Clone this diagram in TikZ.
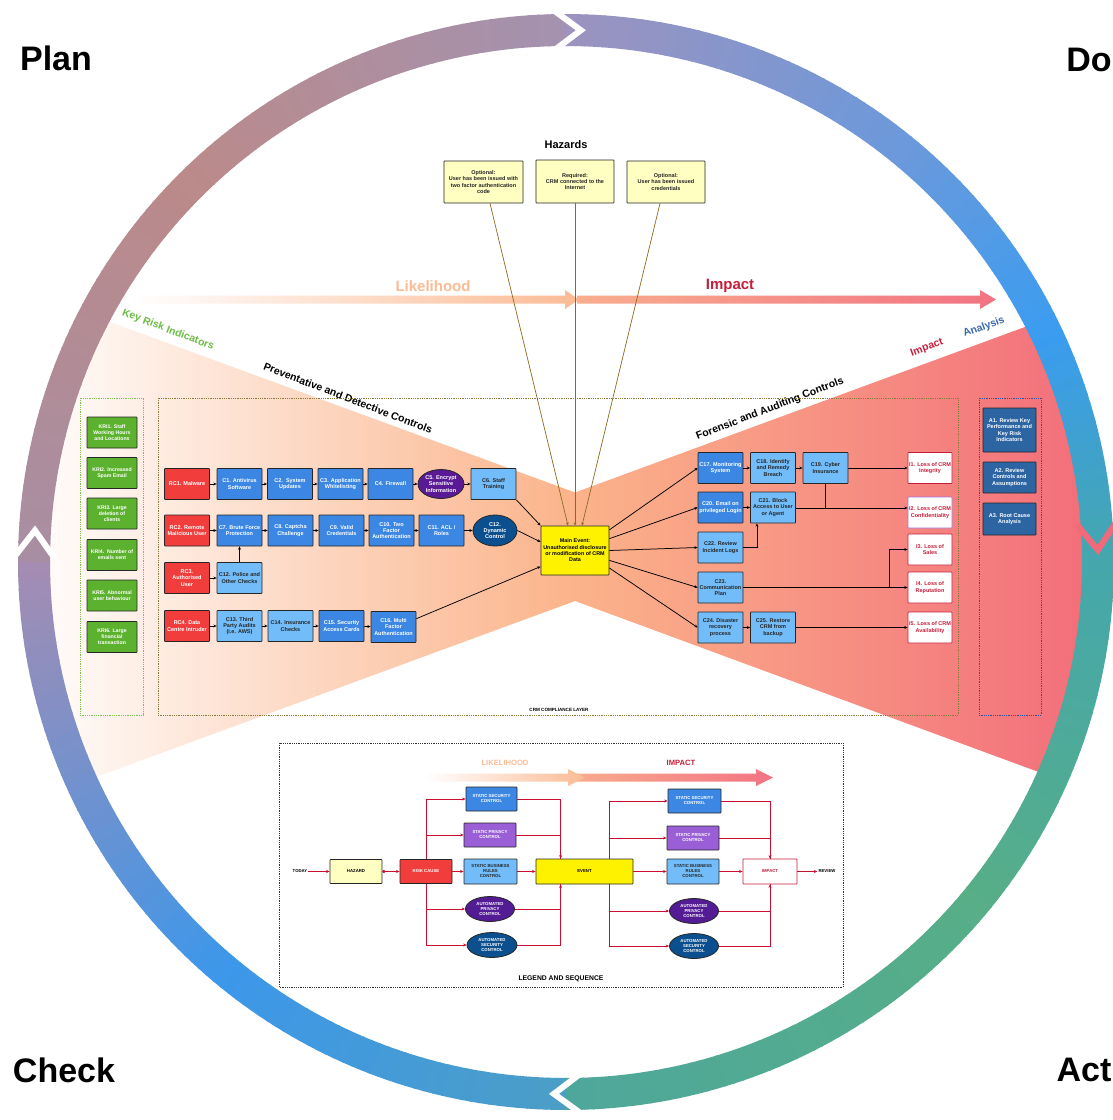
\documentclass[tikz,border=0pt]{standalone}
\usepackage{fontspec}
\setmainfont{Liberation Sans}
\usetikzlibrary{shapes.geometric,arrows.meta,calc}

% palette
\definecolor{rcred}{HTML}{F23D3D}
\definecolor{cblue}{HTML}{3B87E3}
\definecolor{clight}{HTML}{72BCF9}
\definecolor{cpurple}{HTML}{5A1A96}
\definecolor{cnavy}{HTML}{0C4F8E}
\definecolor{krigreen}{HTML}{5CB22E}
\definecolor{kriline}{HTML}{7CC050}
\definecolor{anblue}{HTML}{2D65A3}
\definecolor{anline}{HTML}{3050A0}
\definecolor{crmline}{HTML}{8B7A3A}
\definecolor{impred}{HTML}{C41E3A}
\definecolor{ipurple}{HTML}{A070E0}
\definecolor{hazfill}{HTML}{FFFFC2}
\definecolor{spurple}{HTML}{9A5FD6}
\definecolor{apurple}{HTML}{531B94}
\definecolor{seqred}{HTML}{C8102E}
\definecolor{hazline}{HTML}{8B6B1F}
\definecolor{likeor}{HTML}{FBBB95}
\definecolor{fanor}{HTML}{FBB38A}
\definecolor{fanmid}{HTML}{F8927E}
\definecolor{fanred}{HTML}{F26A7A}
\definecolor{impA}{HTML}{F9AD8E}
\definecolor{impB}{HTML}{F27383}
\definecolor{kritxt}{HTML}{6DBD45}
\definecolor{anatxt}{HTML}{3C6AA8}
% cycle ring colours
\definecolor{rA}{HTML}{45A7AC}
\definecolor{rB}{HTML}{57AE87}
\definecolor{rC}{HTML}{4EA79B}
\definecolor{rD}{HTML}{4B9EC6}
\definecolor{rE}{HTML}{3D97EA}
\definecolor{rF}{HTML}{A58CB2}
\definecolor{rG}{HTML}{A88EA3}
\definecolor{rH}{HTML}{BB8A8A}
\definecolor{rI}{HTML}{A392B0}
\definecolor{rJ}{HTML}{9D93BE}
\definecolor{rK}{HTML}{6A99DC}
\definecolor{rL}{HTML}{3A9CF0}
\definecolor{rM}{HTML}{45A7AC}

\tikzset{
  bx/.style={draw=black!85, line width=0.8pt, rounded corners=0.6pt, align=center,
    inner sep=0.5pt, minimum width=45pt, minimum height=31pt,
    font=\bfseries\fontsize{5.5}{6.3}\selectfont},
  rcbox/.style={bx, fill=rcred, text=white},
  cbbox/.style={bx, fill=cblue, text=white},
  clbox/.style={bx, fill=clight, text=black!85},
  impbox/.style={bx, fill=white, draw=impred, text=impred, minimum width=44pt},
  kribox/.style={bx, fill=krigreen, text=white, minimum width=50pt,
    font=\bfseries\fontsize{5.2}{6.1}\selectfont},
  anbox/.style={bx, fill=anblue, text=white, minimum width=53pt},
  hazbox/.style={bx, fill=hazfill, text=black!85, minimum width=78pt, minimum height=42pt},
  ell/.style={bx, ellipse, inner sep=0pt, minimum width=46pt, minimum height=29pt},
  link/.style={line width=0.75pt, -{Stealth[length=3.2pt,width=2.8pt]}},
  hz/.style={draw=hazline, line width=0.7pt, -{Stealth[length=3.2pt,width=2.8pt]}},
  lg/.style={draw=black!85, line width=0.8pt, rounded corners=0.6pt, align=center,
    inner sep=0.3pt, minimum width=52pt, minimum height=24pt,
    font=\bfseries\fontsize{4.3}{5}\selectfont},
  lgell/.style={lg, ellipse, inner sep=0pt, minimum width=49pt, minimum height=25pt},
  seq/.style={draw=seqred, line width=0.8pt, -{Stealth[length=3.5pt,width=3pt]}},
  seqline/.style={draw=seqred, line width=0.8pt},
  tag/.style={font=\bfseries\fontsize{10.5}{12}\selectfont, inner sep=0pt},
  corner/.style={font=\bfseries\fontsize{34}{36}\selectfont, inner sep=0pt},
}

\begin{document}
\begin{tikzpicture}[x=1pt, y=-1pt]
\useasboundingbox (0,0) rectangle (1112,1120);
\fill[white] (0,0) rectangle (1112,1120);

% ---------- bow-tie fans ----------
\begin{scope}
  \clip (566,562) circle[radius=545];
  \shade[left color=white, right color=fanor]
    (20,289) -- (575,492.5) -- (575,601) -- (20,805) -- cycle;
  \shade[left color=fanor, middle color=fanmid, right color=fanred]
    (575,492.5) -- (1120,292) -- (1120,802) -- (575,601) -- cycle;
\end{scope}

% ---------- likelihood / impact band ----------
\shade[left color=impA, right color=impB]
  (577,295.5) -- (980,295.5) -- (980,290) -- (996,299.5) -- (980,309) -- (980,303.5) -- (577,303.5) -- cycle;
\shade[left color=white, right color=likeor]
  (130,295.5) -- (565,295.5) -- (565,290) -- (579,299.5) -- (565,309) -- (565,303.5) -- (130,303.5) -- cycle;
\node[font=\bfseries\fontsize{15}{17}\selectfont, text=likeor] (likelbl) at (433,286) {Likelihood};
\node[font=\bfseries\fontsize{15}{17}\selectfont, text=impred] (implbl) at (730,286) {Impact};

% ---------- PDCA cycle ring ----------
\begin{scope}[shift={(566,562)}]
  \foreach \a/\b/\ca/\cb in {0/40/rA/rB, 40/90/rB/rC, 90/130/rD/rE, 130/180/rE/rF,
      180/225/rG/rH, 225/270/rH/rI, 270/310/rJ/rK, 310/335/rK/rL, 335/360/rL/rM}{
    \pgfmathtruncatemacro\n{\b-\a-1}
    \foreach \i in {0,...,\n}{
      \pgfmathtruncatemacro\p{100-round(100*(\i+0.5)/(\b-\a))}
      \fill[\ca!\p!\cb] ({\a+\i}:516) -- ({\a+\i}:548) -- ({\a+\i+1.15}:548) -- ({\a+\i+1.15}:516) -- cycle;
    }
  }
  % chevron joints between the four stages
  \draw[white, line width=6pt] (268.7:552) -- (271.6:532) -- (268.7:512);
  \draw[white, line width=6pt] (88.4:552) -- (91.3:532) -- (88.4:512);
  \draw[white, line width=6pt] (180.5:552) -- (183.4:532) -- (180.5:512);
  \draw[fanred, line width=6pt] (355.8:552) -- (358.7:532) -- (355.8:512);
\end{scope}

\node[corner] (plan) at (56,58) {Plan};
\node[corner] (do) at (1089,60) {Do};
\node[corner] (check) at (64,1070) {Check};
\node[corner] (act) at (1084,1070) {Act};

% ---------- section captions ----------
\node[tag, text=kritxt, rotate=-21] (krilbl) at (168,330) {Key Risk Indicators};
\node[tag, rotate=-21] (pdlbl) at (348,398) {Preventative and Detective Controls};
\node[tag, rotate=21] (falbl) at (770,409) {Forensic and Auditing Controls};
\node[tag, text=impred, rotate=20] (imptag) at (927,348) {Impact};
\node[tag, text=anatxt, rotate=20] (anatag) at (984,327) {Analysis};

% ---------- panels ----------
\draw[kriline, densely dotted, line width=0.8pt] (80,398) rectangle (143,715);
\draw[crmline, densely dotted, line width=0.8pt] (158,398) rectangle (958,715);
\draw[anline, densely dotted, line width=0.8pt] (979,398) rectangle (1041,715);
\node[font=\bfseries\fontsize{4.6}{5}\selectfont] (crmlbl) at (559,710) {CRM COMPLIANCE LAYER};

% ---------- hazards ----------
\node[font=\bfseries\fontsize{11}{13}\selectfont] (hazt) at (566,145) {Hazards};
\node[hazbox, minimum width=79pt] (h1) at (483.5,182) {Optional:\\User has been issued with\\two factor authentication\\code};
\node[hazbox, minimum height=43pt] (h2) at (575,181.5) {Required:\\CRM connected to the\\Internet};
\node[hazbox] (h3) at (666,182) {Optional:\\User has been issued\\credentials};

% ---------- key risk indicators ----------
\node[kribox] (kri1) at (112,432.5) {KRI1. Staff\\Working Hours\\and Locations};
\node[kribox] (kri2) at (112,473) {KRI2. Increased\\Spam Email};
\node[kribox] (kri3) at (112,513.5) {KRI3. Large\\deletion of\\clients};
\node[kribox] (kri4) at (112,555) {KRI4.\ \ Number of\\emails sent};
\node[kribox] (kri5) at (112,595.5) {KRI5. Abnormal\\user behaviour};
\node[kribox] (kri6) at (112,637) {KRI6. Large\\financial\\transaction};

% ---------- preventative and detective controls ----------
\node[rcbox] (rc1) at (187,484) {RC1. Malware};
\node[cbbox] (c1) at (239.5,484) {C1. Antivirus\\Software};
\node[cbbox] (c2) at (290,484) {C2.\ \ System\\Updates};
\node[cbbox] (c3) at (340.5,484) {C3. Application\\Whitelisting};
\node[cbbox] (c4) at (390.5,484) {C4. Firewall};
\node[ell, fill=cpurple, text=white] (c5) at (441,484) {C5. Encrypt\\Sensitive\\Information};
\node[clbox] (c6) at (493.5,484) {C6. Staff\\Training};

\node[rcbox] (rc2) at (187,530.5) {RC2. Remote\\Malicious User};
\node[cbbox] (c7) at (239.5,530.5) {C7. Brute Force\\Protection};
\node[cbbox] (c8) at (290.5,530.5) {C8. Captcha\\Challenge};
\node[cbbox] (c9) at (341.5,530.5) {C9. Valid\\Credentials};
\node[cbbox] (c10) at (391.5,530.5) {C10. Two\\Factor\\Authentication};
\node[cbbox] (c11) at (441.5,530.5) {C11. ACL /\\Roles};
\node[ell, fill=cnavy, text=white, minimum width=44pt, minimum height=31pt] (c12d) at (495,530.5) {C12.\\Dynamic\\Control};

\node[rcbox] (rc3) at (187,578) {RC3.\\Authorised\\User};
\node[clbox] (c12p) at (239.5,578) {C12. Police and\\Other Checks};

\node[rcbox] (rc4) at (187,626) {RC4. Data\\Centre Intruder};
\node[clbox] (c13) at (239.5,626) {C13. Third\\Party Audits\\(i.e. AWS)};
\node[clbox] (c14) at (290.5,626) {C14. Insurance\\Checks};
\node[cbbox] (c15) at (341.5,626) {C15. Security\\Access Cards};
\node[cbbox] (c16) at (393.5,627) {C16. Multi\\Factor\\Authentication};

% ---------- main event ----------
\node[bx, fill=yellow, text=black, minimum width=68pt, minimum height=49pt,
  font=\bfseries\fontsize{5.4}{6.3}\selectfont] (main) at (575,550.5)
  {Main Event:\\Unauthorised disclosure\\or modification of CRM\\Data};

% ---------- forensic and auditing controls ----------
\node[cbbox] (c17) at (720.5,468) {C17. Monitoring\\System};
\node[clbox] (c18) at (773,468) {C18. Identify\\and Remedy\\Breach};
\node[clbox] (c19) at (825.5,468) {C19. Cyber\\Insurance};
\node[cbbox] (c20) at (720.5,507.5) {C20. Email on\\privileged Login};
\node[clbox] (c21) at (773,507.5) {C21. Block\\Access to User\\or Agent};
\node[clbox] (c22) at (720.5,547.5) {C22. Review\\Incident Logs};
\node[clbox] (c23) at (720.5,587.5) {C23.\\Communication\\Plan};
\node[clbox] (c24) at (720.5,627.5) {C24. Disaster\\recovery\\process};
\node[clbox] (c25) at (773,627.5) {C25. Restore\\CRM from\\backup};

\node[impbox] (i1) at (930,468) {I1. Loss of CRM\\Integrity};
\node[impbox, draw=ipurple] (i2) at (930,512.5) {I2. Loss of CRM\\Confidentiality};
\node[impbox] (i3) at (930,549.5) {I3. Loss of\\Sales};
\node[impbox] (i4) at (930,587.5) {I4. Loss of\\Reputation};
\node[impbox] (i5) at (930,627.5) {I5. Loss of CRM\\Availability};

% ---------- analysis ----------
\node[anbox, minimum height=44pt] (a1) at (1009.5,430) {A1. Review Key\\Performance and\\Key Risk\\Indicators};
\node[anbox] (a2) at (1009.5,477.5) {A2. Review\\Controls and\\Assumptions};
\node[anbox, minimum height=32pt] (a3) at (1009.5,519) {A3. Root Cause\\Analysis};

% ---------- connectors: hazards ----------
\draw[hz] ($(h1.south)+(6.5,0)$) -- ($(main.north)+(-7,0)$);
\draw[hz] (h2.south) -- (main.north);
\draw[hz] ($(h3.south)+(-6,0)$) -- ($(main.north)+(7,0)$);

% ---------- connectors: left side ----------
\foreach \s/\t in {rc1/c1, c1/c2, c2/c3, c3/c4, c4/c5, c5/c6,
                   rc2/c7, c7/c8, c8/c9, c9/c10, c10/c11, c11/c12d,
                   rc3/c12p, c12p/c7,
                   rc4/c13, c13/c14, c14/c15, c15/c16}
  \draw[link] (\s) -- (\t);
\draw[link] (c6.south east) -- (main.north west);
\draw[link] (c12d.east) -- (main.166);
\draw[link] (c16.20) -- (main.205);

% ---------- connectors: right side ----------
\draw[link] (main.31) -- (c17.west);
\draw[link] (main.19) -- (c20.west);
\draw[link] (main.east) -- (c22.west);
\draw[link] (main.-16) -- (c23.west);
\draw[link] (main.-27) -- (c24.west);
\foreach \s/\t in {c17/c18, c18/c19, c19/i1, c20/c21, c24/c25, c25/i5}
  \draw[link] (\s) -- (\t);
\coordinate (j2) at (825.5,508);
\draw[line width=0.75pt] (c21.east |- j2) -- (j2);
\draw[link] (c19.south) -- (j2) -- (j2 -| i2.west);
\coordinate (c21b) at ($(c21.south)+(-16,0)$);
\draw[link] (c22.east) -| (c21b);
\coordinate (j3) at (889,587.5);
\draw[link] (c23.east) -- (i4.west);
\draw[link] (j3) |- (i3.west);

% ---------- legend and sequence ----------
\draw[black!80, densely dotted, line width=0.8pt] (279,743) rectangle (843,987);
\node[font=\bfseries\fontsize{6.8}{8}\selectfont] (lgt) at (561,979) {LEGEND AND SEQUENCE};

\shade[left color=impA, right color=impB]
  (568,773.5) -- (756,773.5) -- (756,769) -- (773,777.5) -- (756,786) -- (756,781.5) -- (568,781.5) -- cycle;
\shade[left color=white, right color=likeor]
  (425,773.5) -- (568,773.5) -- (568,769) -- (585,777.5) -- (568,786) -- (568,781.5) -- (425,781.5) -- cycle;
\node[font=\bfseries\fontsize{7.6}{9}\selectfont, text=likeor] (lglike) at (505,763) {LIKELIHOOD};
\node[font=\bfseries\fontsize{7.6}{9}\selectfont, text=impred] (lgimp) at (681,763) {IMPACT};

\node[font=\bfseries\fontsize{4.3}{5}\selectfont, inner sep=1pt] (today) at (300,871.5) {TODAY};
\node[lg, fill=hazfill] (lhaz) at (356,871.5) {HAZARD};
\node[lg, fill=rcred, text=white] (lrc) at (426,871.5) {RISK CAUSE};
\node[lg, fill=cblue, text=white, minimum width=51pt] (lss1) at (491.5,799) {STATIC SECURITY\\CONTROL};
\node[lg, fill=spurple, text=white] (lsp1) at (490,835) {STATIC PRIVACY\\CONTROL};
\node[lg, fill=clight, text=black!85, minimum width=53pt, minimum height=25pt] (lsb1) at (490.5,871.5) {STATIC BUSINESS\\RULES\\CONTROL};
\node[lgell, fill=apurple, text=white] (lap1) at (490,909) {AUTOMATED\\PRIVACY\\CONTROL};
\node[lgell, fill=cnavy, text=white, minimum width=50pt] (las1) at (492,945) {AUTOMATED\\SECURITY\\CONTROL};
\node[lg, fill=yellow, minimum width=97pt, minimum height=25pt] (lev) at (584.5,871.5) {EVENT};
\node[lg, fill=cblue, text=white, minimum width=53pt] (lss2) at (694.5,801) {STATIC SECURITY\\CONTROL};
\node[lg, fill=spurple, text=white] (lsp2) at (693,838) {STATIC PRIVACY\\CONTROL};
\node[lg, fill=clight, text=black!85, minimum height=25pt] (lsb2) at (693,871.5) {STATIC BUSINESS\\RULES\\CONTROL};
\node[lgell, fill=apurple, text=white] (lap2) at (694,911) {AUTOMATED\\PRIVACY\\CONTROL};
\node[lgell, fill=cnavy, text=white] (las2) at (694,946) {AUTOMATED\\SECURITY\\CONTROL};
\node[lg, fill=white, draw=impred, text=impred, minimum width=54pt, minimum height=25pt] (limp) at (770,871.5) {IMPACT};
\node[font=\bfseries\fontsize{4.3}{5}\selectfont, inner sep=1pt] (review) at (827,871.5) {REVIEW};

\draw[seq] (today) -- (lhaz);
\draw[seqred, line width=0.8pt, {Circle[length=3pt]}-{Stealth[length=3.5pt,width=3pt]}] (lhaz) -- (lrc);
\draw[seq] (lrc.north) |- (lss1.west);
\draw[seq] (lrc.north) |- (lsp1.west);
\draw[seq] (lrc) -- (lsb1);
\draw[seq] (lrc.south) |- (lap1.west);
\draw[seq] (lrc.south) |- (las1.west);
\coordinate (evt1) at ($(lev.north west)+(25,0)$);
\coordinate (evb1) at ($(lev.south west)+(25,0)$);
\draw[seq] (lss1.east) -| (evt1);
\draw[seqline] (lsp1.east) -| (evt1);
\draw[seq] (lsb1) -- (lev);
\draw[seq] (las1.east) -| (evb1);
\draw[seqline] (lap1.east) -| (evb1);
\coordinate (evt2) at ($(lev.north east)+(-24,0)$);
\coordinate (evb2) at ($(lev.south east)+(-24,0)$);
\draw[seq] (evt2) |- (lss2.west);
\draw[seq] (evt2) |- (lsp2.west);
\draw[seq] (lev) -- (lsb2);
\draw[seq] (evb2) |- (lap2.west);
\draw[seq] (evb2) |- (las2.west);
\draw[seq] (lss2.east) -| (limp.north);
\draw[seqline] (lsp2.east) -| (limp.north);
\draw[seq] (lsb2) -- (limp);
\draw[seq] (las2.east) -| (limp.south);
\draw[seqline] (lap2.east) -| (limp.south);
\draw[seq] (limp) -- (review);

\end{tikzpicture}
\end{document}
